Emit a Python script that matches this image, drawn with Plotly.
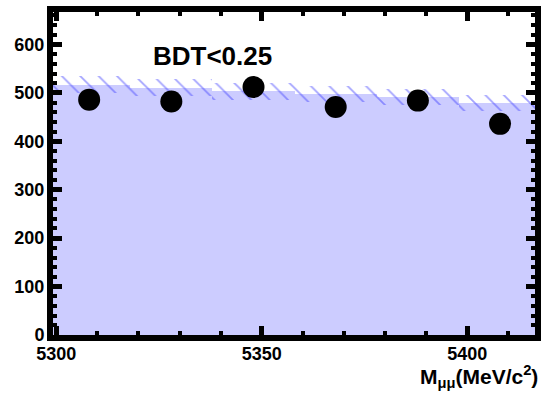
import plotly.graph_objects as go

# Data
bin_centers = [5308, 5328, 5348, 5368, 5388, 5408]
data_counts = [486, 482, 512, 471, 484, 436]
model_counts = [517, 511, 503, 498, 492, 479]
model_err = [17, 17, 17, 17, 17, 17]
bin_width = 20
label_text = "BDT<0.25"

FONT = "Liberation Sans, Arial, sans-serif"

fig = go.Figure()

# filled model histogram
fig.add_trace(go.Bar(
    x=bin_centers, y=model_counts, width=[bin_width] * len(bin_centers),
    marker=dict(color="#ccccff", line=dict(width=0)),
    showlegend=False, hoverinfo="skip"))

# hatched uncertainty band
fig.add_trace(go.Bar(
    x=bin_centers,
    y=[2 * e for e in model_err],
    base=[m - e for m, e in zip(model_counts, model_err)],
    width=[bin_width] * len(bin_centers),
    marker=dict(color="rgba(0,0,0,0)", line=dict(width=0),
                pattern=dict(shape="\\", fgcolor="#4848ff",
                             bgcolor="rgba(0,0,0,0)", size=13, solidity=0.14)),
    showlegend=False, hoverinfo="skip"))

# data points
fig.add_trace(go.Scatter(
    x=bin_centers, y=data_counts, mode="markers",
    marker=dict(color="black", size=22),
    showlegend=False))

fig.add_annotation(x=5338, y=576, xref="x", yref="y", text=label_text,
                   showarrow=False, xanchor="center", yanchor="middle",
                   font=dict(family=FONT, size=26, color="black", weight="bold"))

fig.add_annotation(x=1, y=-0.13, xref="paper", yref="paper",
                   text="M<sub>μμ</sub>(MeV/c<sup>2</sup>)",
                   showarrow=False, xanchor="right", yanchor="middle", xshift=5,
                   font=dict(family=FONT, size=21, color="black", weight="bold"))

fig.update_layout(
    width=546, height=394,
    margin=dict(l=53, r=5, t=12, b=59),
    plot_bgcolor="white", paper_bgcolor="white",
    barmode="overlay", bargap=0,
    font=dict(family=FONT, color="black"),
    xaxis=dict(range=[5299.2, 5416.5], tick0=5300, dtick=50,
               ticks="inside", ticklen=9, tickwidth=5, tickcolor="black",
               minor=dict(dtick=10, ticks="inside", ticklen=4, tickwidth=4, tickcolor="black"),
               showline=True, linewidth=6, linecolor="black", mirror="allticks",
               showgrid=False, zeroline=False, ticklabelstandoff=-3,
               tickfont=dict(family=FONT, size=18, color="black", weight="bold")),
    yaxis=dict(range=[0, 667], tick0=0, dtick=100,
               ticks="inside", ticklen=9, tickwidth=5, tickcolor="black",
               minor=dict(dtick=20, ticks="inside", ticklen=4, tickwidth=4, tickcolor="black"),
               showline=True, linewidth=6, linecolor="black", mirror="allticks",
               showgrid=False, zeroline=False, ticklabelstandoff=-1,
               tickfont=dict(family=FONT, size=18, color="black", weight="bold")),
)

fig.write_html("out.html")
